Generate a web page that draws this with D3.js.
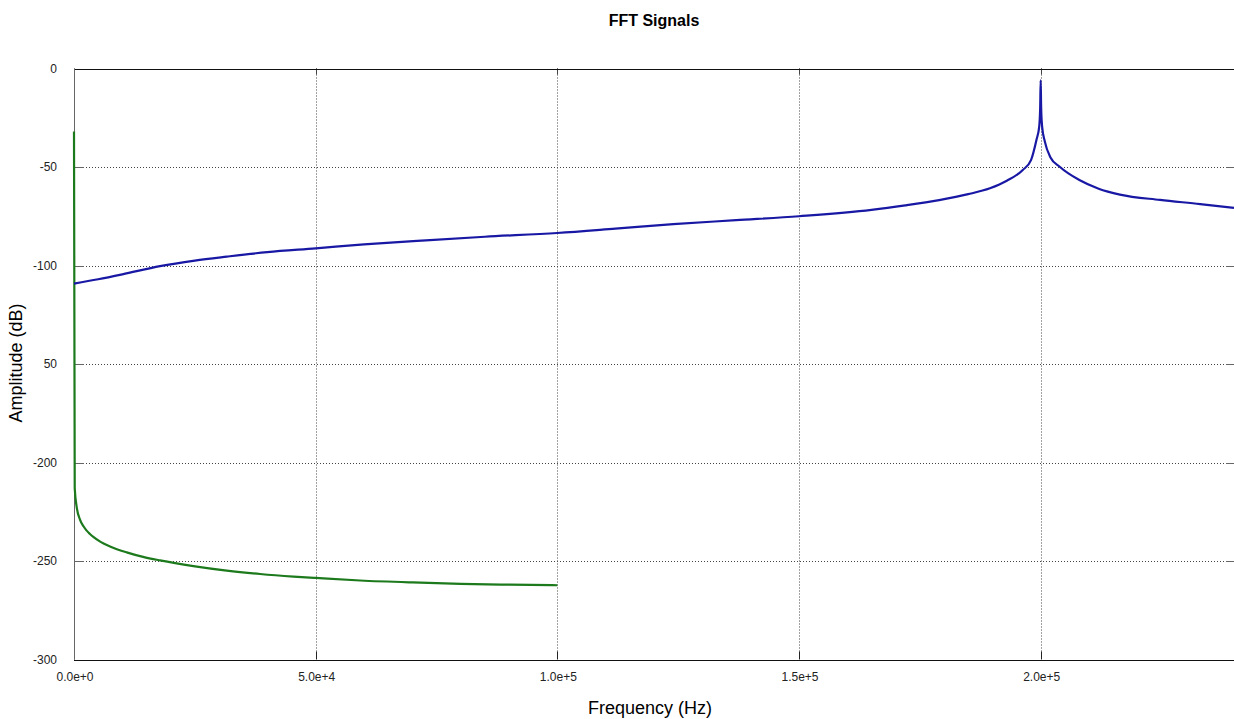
<!DOCTYPE html>
<html><head><meta charset="utf-8">
<script src="https://cdn.jsdelivr.net/npm/d3@7"></script>
<style>body{margin:0;background:#fff;}svg{display:block;font-family:"Liberation Sans",Arial,sans-serif;}</style>
</head><body>
<svg id="c" width="1234" height="719"></svg>
<script>
const titleText = "FFT Signals";
const xLabel = "Frequency (Hz)";
const yLabel = "Amplitude (dB)";
const xTickValues = [0, 50000, 100000, 150000, 200000];
const xTickLabels = ["0.0e+0", "5.0e+4", "1.0e+5", "1.5e+5", "2.0e+5"];
const yTickValues = [0, -50, -100, -150, -200, -250, -300];
const yTickLabels = ["0", "-50", "-100", "50", "-200", "-250", "-300"];

const blueFreq = [0,5000,10000,17800,25000,31600,40000,50000,60000,72800,85000,100000,112000,124000,137000,150000,165000,172000,179000,185000,189500,193000,196300,198000,199150,199700,199900,200000,200100,200300,200850,202000,204000,208000,212000,216400,224700,233000,240000];
const blueDb = [-109.2,-107,-104.5,-100.3,-97.5,-95.5,-93.2,-91.3,-89.3,-87.2,-85.4,-83.5,-81.3,-79,-77,-75,-71.8,-69.5,-66.8,-63.8,-60.8,-57,-51.5,-46.5,-36,-29.5,-20,-6,-20,-29.5,-37,-45,-50,-56.6,-61,-64,-66.7,-68.8,-70.8];

const greenFreq = [0,150,550,1240,2000,2620,3300,4000,5500,7450,10900,14300,17800,24700,31600,38500,45400,50000,59200,70000,80000,90000,100000];
const greenDb = [-32,-213,-222.5,-229,-232.5,-234.6,-236.3,-237.8,-240.3,-242.6,-245.6,-247.9,-249.7,-252.6,-254.9,-256.6,-257.9,-258.6,-259.9,-260.9,-261.6,-262,-262.3];

const svg = d3.select("#c");
const L = 74, R = 1234, T = 68.5, B = 659.5;
const x = d3.scaleLinear().domain([0, 240000]).range([L, R]);
const y = d3.scaleLinear().domain([-300, 0]).range([B, T]);

// grid
const g = svg.append("g");
g.selectAll(".vg").data(xTickValues.slice(1)).enter().append("line")
  .attr("x1", d => Math.round(x(d)) + 0.5).attr("x2", d => Math.round(x(d)) + 0.5)
  .attr("y1", T).attr("y2", B)
  .attr("stroke", "#444").attr("stroke-width", 1).attr("stroke-dasharray", "1,2");
g.selectAll(".hg").data(yTickValues.slice(1, -1)).enter().append("line")
  .attr("x1", L).attr("x2", R)
  .attr("y1", d => Math.round(y(d)) + 0.5).attr("y2", d => Math.round(y(d)) + 0.5)
  .attr("stroke", "#444").attr("stroke-width", 1).attr("stroke-dasharray", "1,2");

// ticks (inward)
g.selectAll(".lt").data(yTickValues).enter().append("line")
  .attr("x1", L).attr("x2", L + 10)
  .attr("y1", d => Math.round(y(d)) + 0.5).attr("y2", d => Math.round(y(d)) + 0.5)
  .attr("stroke", "#666").attr("stroke-width", 1);
g.selectAll(".rt").data(yTickValues).enter().append("line")
  .attr("x1", R - 8).attr("x2", R)
  .attr("y1", d => Math.round(y(d)) + 0.5).attr("y2", d => Math.round(y(d)) + 0.5)
  .attr("stroke", "#666").attr("stroke-width", 1);
g.selectAll(".bt").data(xTickValues).enter().append("line")
  .attr("x1", d => Math.round(x(d)) + 0.5).attr("x2", d => Math.round(x(d)) + 0.5)
  .attr("y1", B).attr("y2", B - 8)
  .attr("stroke", "#222").attr("stroke-width", 1);
g.selectAll(".tt").data(xTickValues).enter().append("line")
  .attr("x1", d => Math.round(x(d)) + 0.5).attr("x2", d => Math.round(x(d)) + 0.5)
  .attr("y1", T).attr("y2", T + 6)
  .attr("stroke", "#444").attr("stroke-width", 1);

// frame
g.append("line").attr("x1", L).attr("x2", R).attr("y1", Math.round(T)+0.5).attr("y2", Math.round(T)+0.5).attr("stroke", "#111");
g.append("line").attr("x1", L).attr("x2", R).attr("y1", Math.round(B)+0.5).attr("y2", Math.round(B)+0.5).attr("stroke", "#111");
g.append("line").attr("x1", L + 0.5).attr("x2", L + 0.5).attr("y1", T).attr("y2", B).attr("stroke", "#666");

// lines
const line = d3.line().x(d => x(d[0])).y(d => y(d[1])).curve(d3.curveMonotoneX);
svg.append("path").datum(greenFreq.map((f, i) => [f, greenDb[i]]))
  .attr("d", line).attr("fill", "none").attr("stroke", "#1c7a1c").attr("stroke-width", 2.2);
svg.append("path").datum(blueFreq.map((f, i) => [f, blueDb[i]]))
  .attr("d", line).attr("fill", "none").attr("stroke", "#1818a4").attr("stroke-width", 2.2);

// tick labels
svg.selectAll(".yl").data(yTickValues).enter().append("text")
  .attr("x", 57).attr("y", d => y(d)).attr("dy", "0.35em")
  .attr("text-anchor", "end").attr("font-size", 12).attr("fill", "#222")
  .text((d, i) => yTickLabels[i]);
svg.selectAll(".xl").data(xTickValues).enter().append("text")
  .attr("x", d => x(d) + 1).attr("y", 681)
  .attr("text-anchor", "middle").attr("font-size", 12).attr("fill", "#222")
  .text((d, i) => xTickLabels[i]);

// titles
svg.append("text").attr("x", 654).attr("y", 26).attr("text-anchor", "middle")
  .attr("font-size", 16).attr("font-weight", "bold").text(titleText);
svg.append("text").attr("x", 650).attr("y", 714).attr("text-anchor", "middle")
  .attr("font-size", 18).text(xLabel);
svg.append("text").attr("transform", "translate(22,363) rotate(-90)").attr("text-anchor", "middle")
  .attr("font-size", 18).text(yLabel);
</script>
</body></html>
